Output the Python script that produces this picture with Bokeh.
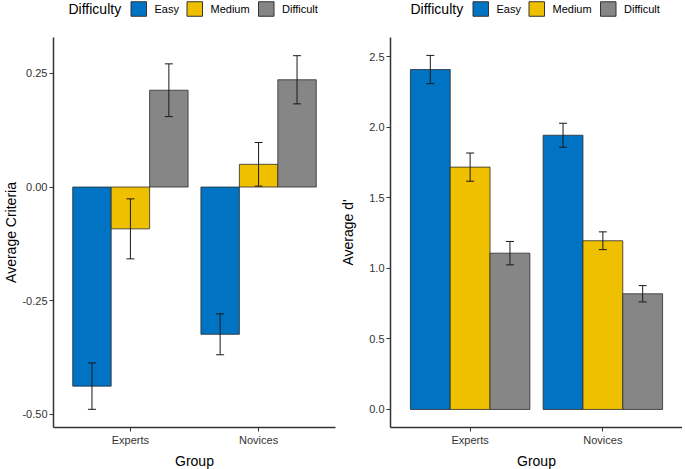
from bokeh.plotting import figure
from bokeh.models import (ColumnDataSource, FactorRange, Range1d, Whisker, TeeHead,
                          FixedTicker, NumeralTickFormatter)
from bokeh.transform import dodge
from bokeh.layouts import row, column
from bokeh.embed import file_html
from bokeh.resources import INLINE
from bokeh.core.properties import value

# ---------------- data ----------------
groups = ["Experts", "Novices"]
difficulties = ["Easy", "Medium", "Difficult"]
colors = ["#0073C2", "#EFC000", "#868686"]

criteria_easy = [-0.438, -0.324]
criteria_medium = [-0.092, 0.050]
criteria_difficult = [0.213, 0.236]
criteria_se_easy = [0.051, 0.045]
criteria_se_medium = [0.066, 0.048]
criteria_se_difficult = [0.058, 0.053]

dprime_easy = [2.410, 1.944]
dprime_medium = [1.718, 1.196]
dprime_difficult = [1.108, 0.820]
dprime_se_easy = [0.100, 0.085]
dprime_se_medium = [0.100, 0.063]
dprime_se_difficult = [0.083, 0.058]

criteria_ticks = [-0.50, -0.25, 0.00, 0.25]
dprime_ticks = [0.0, 0.5, 1.0, 1.5, 2.0, 2.5]

FONT = "Liberation Sans"
AXIS_COL = "#333333"
TEXT_COL = "#1a1a1a"
FRAME_H = 390
LEG_H = 37


def make_panel(means, ses, ylabel, yrange, ticks, fmt, frame_w, border_left,
               border_right, label_standoff):
    p = figure(x_range=FactorRange(factors=groups, range_padding=0.1,
                                   range_padding_units="absolute"),
               y_range=Range1d(*yrange),
               frame_width=frame_w, frame_height=FRAME_H,
               min_border_left=border_left, min_border_right=border_right,
               min_border_top=0, min_border_bottom=41,
               output_backend="svg", toolbar_location=None)
    offsets = [-0.3, 0.0, 0.3]
    for m, s, c, off in zip(means, ses, colors, offsets):
        src = ColumnDataSource(dict(group=groups, value=m,
                                    upper=[a + b for a, b in zip(m, s)],
                                    lower=[a - b for a, b in zip(m, s)]))
        p.vbar(x=dodge("group", off, range=p.x_range), top="value", bottom=0,
               width=0.3, source=src, fill_color=c, line_color="#2b2b2b",
               line_width=0.8)
        w = Whisker(base=dodge("group", off, range=p.x_range), upper="upper",
                    lower="lower", source=src, line_color=TEXT_COL, line_width=1,
                    level="overlay")
        w.upper_head = TeeHead(size=8, line_color=TEXT_COL, line_width=1)
        w.lower_head = TeeHead(size=8, line_color=TEXT_COL, line_width=1)
        p.add_layout(w)

    p.xgrid.grid_line_color = None
    p.ygrid.grid_line_color = None
    p.outline_line_color = None
    p.background_fill_color = "white"

    for ax in (p.xaxis, p.yaxis):
        ax.axis_line_color = AXIS_COL
        ax.axis_line_width = 1.5
        ax.major_tick_line_color = AXIS_COL
        ax.major_tick_line_width = 1
        ax.major_tick_out = 4
        ax.major_tick_in = 0
        ax.minor_tick_out = 0
        ax.minor_tick_in = 0
        ax.major_label_text_font = FONT
        ax.major_label_text_font_size = "11px"
        ax.major_label_text_color = "#333333"
        ax.major_label_standoff = 2
        ax.axis_label_text_font = FONT
        ax.axis_label_text_font_size = "14px"
        ax.axis_label_text_font_style = "normal"
        ax.axis_label_text_color = "#000000"

    p.xaxis.axis_label = "Group"
    p.xaxis.axis_label_standoff = 4
    p.yaxis.axis_label = ylabel
    p.yaxis.axis_label_standoff = label_standoff
    p.yaxis.ticker = FixedTicker(ticks=ticks)
    p.yaxis.formatter = NumeralTickFormatter(format=fmt)
    return p


def make_legend(frame_w, border_left, border_right):
    # legend strip whose frame is aligned with the panel frame below it;
    # x/y data units equal pixels of that frame
    lg = figure(frame_width=frame_w, frame_height=LEG_H,
                x_range=Range1d(0, frame_w), y_range=Range1d(0, LEG_H),
                x_axis_type=None, y_axis_type=None,
                min_border_left=border_left, min_border_right=border_right,
                min_border_top=0, min_border_bottom=0,
                output_backend="svg", toolbar_location=None)
    lg.outline_line_color = None
    center = frame_w / 2
    yc = LEG_H - 8.5
    box_w, box_h = 15.5, 14.5
    label_w = [25, 40.5, 38.5]
    x = center - 63.5
    box_x, text_x = [], []
    for lw in label_w:
        box_x.append(x + box_w / 2)
        text_x.append(x + box_w + 8)
        x = x + box_w + 8 + lw + 7.5
    lg.text(x=[center - 126], y=[yc], text=["Difficulty"], text_font=value(FONT),
            text_font_size="14px", text_baseline="middle", text_align="left",
            text_color="#000000")
    lg.rect(x=box_x, y=[yc] * 3, width=box_w, height=box_h, fill_color=colors,
            line_color="#333333", line_width=1)
    lg.text(x=text_x, y=[yc] * 3, text=difficulties, text_font=value(FONT),
            text_font_size="11px", text_baseline="middle", text_align="left",
            text_color="#000000")
    return lg


LEFT_FRAME_W, LEFT_BL, LEFT_BR = 282, 48, 2
RIGHT_FRAME_W, RIGHT_BL, RIGHT_BR = 292, 53, 0

p1 = make_panel([criteria_easy, criteria_medium, criteria_difficult],
                [criteria_se_easy, criteria_se_medium, criteria_se_difficult],
                "Average Criteria", (-0.529, 0.329), criteria_ticks, "0.00",
                LEFT_FRAME_W, LEFT_BL, LEFT_BR, 0)
p2 = make_panel([dprime_easy, dprime_medium, dprime_difficult],
                [dprime_se_easy, dprime_se_medium, dprime_se_difficult],
                "Average d'", (-0.128, 2.637), dprime_ticks, "0.0",
                RIGHT_FRAME_W, RIGHT_BL, RIGHT_BR, 10)

lg1 = make_legend(LEFT_FRAME_W, LEFT_BL, LEFT_BR)
lg2 = make_legend(RIGHT_FRAME_W, RIGHT_BL, RIGHT_BR)

layout = row(column(lg1, p1, spacing=0), column(lg2, p2, spacing=0), spacing=0)

open("out.html", "w").write(file_html(layout, INLINE))
